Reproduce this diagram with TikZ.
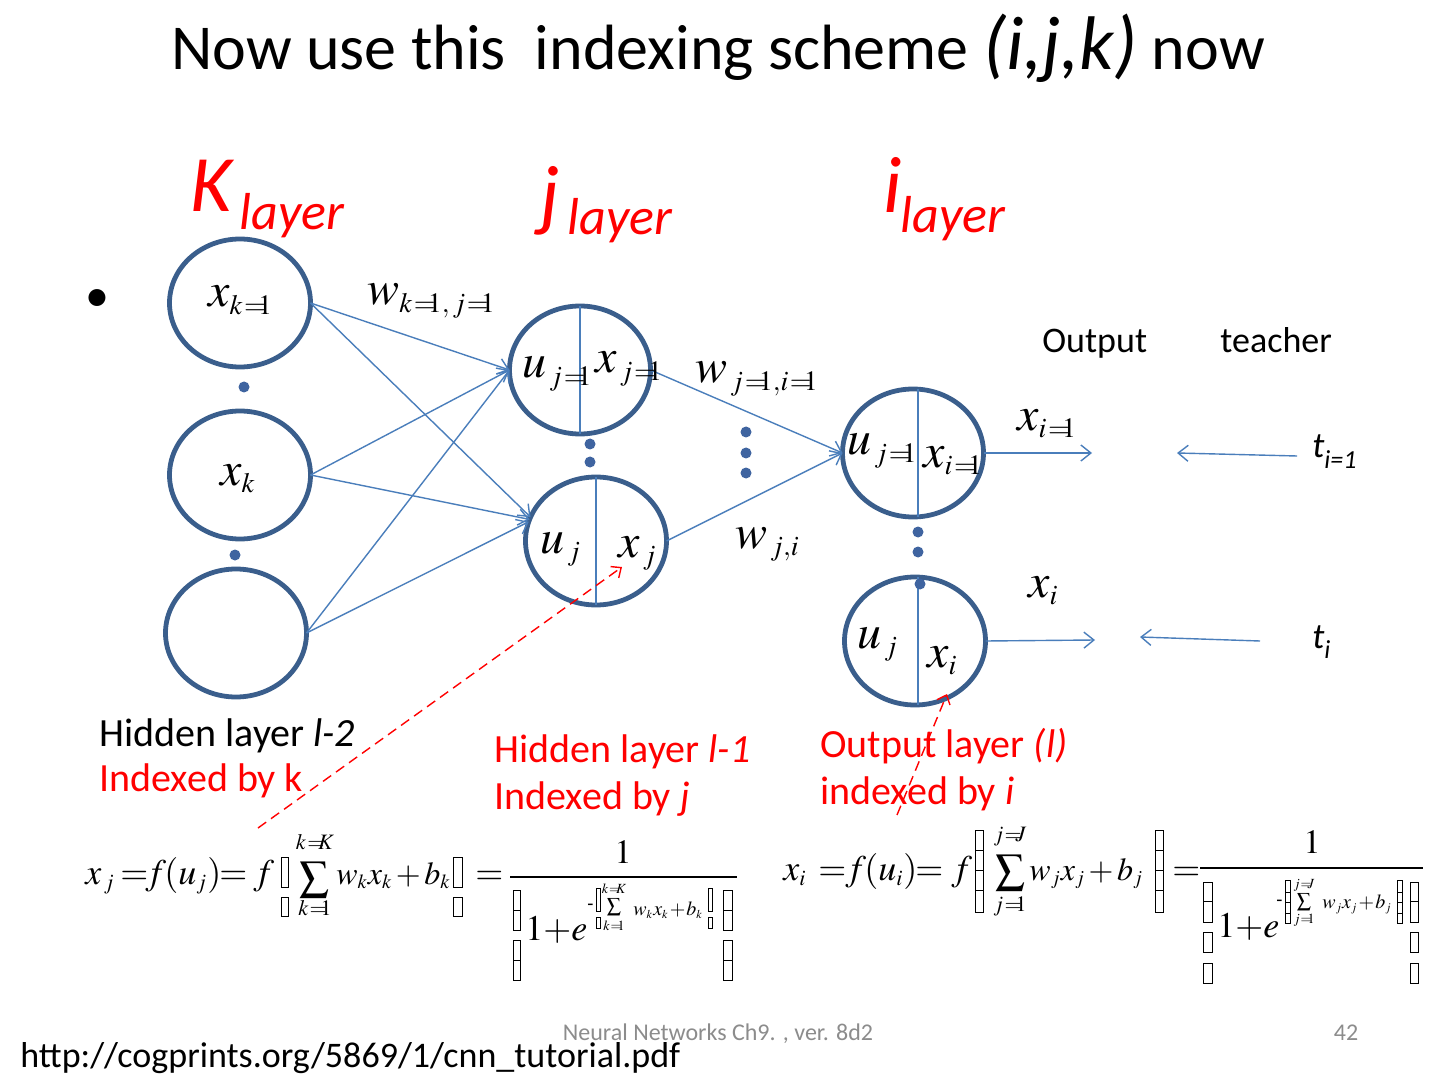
\documentclass[tikz,border=0pt]{standalone}
\usepackage{mathptmx}
\usepackage[no-math]{fontspec}
\setmainfont{Carlito}
\usetikzlibrary{shapes.geometric,arrows.meta,calc}
\definecolor{nborder}{HTML}{3A5E8C}
\definecolor{conncol}{HTML}{4A7EBB}
\definecolor{dotcol}{HTML}{3F64A0}
\definecolor{footgray}{HTML}{8C8C8C}
\newcommand\fsz[1]{\fontsize{#1}{#1}\selectfont}
\newcommand\eqo{\mkern1mu{=}\mkern-5mu}
\newcommand\eqfnt{\fsz{18}\medmuskip=2mu\relax}
\newcommand\eqtfnt{\fsz{18}\medmuskip=0mu\relax}
\newcommand\eqmfnt{\fsz{16}\medmuskip=2mu\relax}
\newcommand\eqsfnt{\fsz{10}\medmuskip=1mu\relax}
\DeclareMathSizes{24}{24}{14}{10}
\DeclareMathSizes{18}{18}{11}{8}
\DeclareMathSizes{16}{16}{10}{7}
\DeclareMathSizes{10}{10}{6}{5}
\begin{document}
\begin{tikzpicture}[x=0.5pt,y=-0.5pt,
 neuron/.style={ellipse, draw=nborder, line width=2.4pt, minimum width=70.5pt, minimum height=64pt, inner sep=0pt, outer sep=0pt},
 conn/.style={draw=conncol, line width=0.7pt, -{Straight Barb[length=5pt,width=8pt]}},
 divider/.style={draw=conncol, line width=0.6pt},
 dotm/.style={circle, fill=dotcol, inner sep=0pt, minimum size=5.5pt},
 redarrow/.style={draw=red, line width=0.7pt, dash pattern=on 5pt off 3pt, -{Straight Barb[length=4pt,width=7pt]}},
 lbl/.style={anchor=base west, inner sep=0pt, font=\fsz{24}},
 hd/.style={anchor=base west, inner sep=0pt, text=red, font=\fsz{40}\itshape},
 hdsub/.style={anchor=base west, inner sep=0pt, text=red, font=\fsz{26}\itshape},
 txt/.style={anchor=base west, inner sep=0pt, font=\fsz{20}},
 eq/.style={anchor=base west, inner sep=0pt, font=\eqfnt},
 eqt/.style={anchor=base west, inner sep=0pt, font=\eqtfnt},
 eqm/.style={anchor=base west, inner sep=0pt, font=\eqmfnt},
 eqs/.style={anchor=base west, inner sep=0pt, font=\eqsfnt},
 lim/.style={anchor=base, inner sep=0pt},
 bbox/.style={draw=black, line width=0.4pt}
]
\fill[white] (0,0) rectangle (1440,1080);
\useasboundingbox (0,0) rectangle (1440,1080);

% title
\node[anchor=base, font=\fsz{32}, inner sep=0pt] (title) at (718,70) {Now use this~ indexing scheme {\fsz{38}\itshape (i,j,k)} now};

% bullet
\node[font=\fsz{24}, inner sep=0pt] (bullet) at (97,301) {•};

% layer headings
\node[hd] (hK) at (190,212) {K};
\node[hdsub] (hKs) at (239,230) {layer};
\node[hd] (hj) at (540,222) {j};
\node[hdsub] (hjs) at (567,235) {layer};
\node[hd] (hi) at (883,213) {i};
\node[hdsub] (his) at (900,233) {layer};

% neurons
\node[neuron] (k1) at (240,303) {};
\node[neuron] (kk) at (240,475) {};
\node[neuron] (kn) at (236,633) {};
\node[neuron] (jA) at (580,370) {};
\node[neuron] (jB) at (596,541) {};
\node[neuron] (iC) at (913,453) {};
\node[neuron] (iD) at (915,641) {};

% dividers
\draw[divider] (jA.north) -- (jA.south);
\draw[divider] (jB.north) -- (jB.south);
\draw[divider] ($(iC.north)+(5,0)$) -- ($(iC.south)+(5,0)$);
\draw[divider] ($(iD.north)+(3,0)$) -- ($(iD.south)+(3,0)$);

% dots
\node[dotm] (dk1) at (244,387) {};
\node[dotm] (dk2) at (235,555) {};
\node[dotm] (dj1) at (590,444) {};
\node[dotm] (dj2) at (590,462) {};
\node[dotm] (dw1) at (746,432) {};
\node[dotm] (dw2) at (746,453) {};
\node[dotm] (dw3) at (746,473) {};
\node[dotm] (di1) at (918,532) {};
\node[dotm] (di2) at (918,552) {};
\node[dotm] (di3) at (920,584) {};

% connectors
\draw[conn] (k1.east) -- (jA.west);
\draw[conn] (k1.east) -- (jB.160);
\draw[conn] (kk.east) -- (jA.west);
\draw[conn] (kk.east) -- (jB.162);
\draw[conn] (kn.east) -- (jA.west);
\draw[conn] (kn.east) -- (jB.164);
\draw[conn] (jA.east) -- (iC.west);
\draw[conn] (jB.east) -- (iC.west);
\coordinate (oC) at (1092,453);
\coordinate (oD) at (1095,640);
\draw[conn] (iC.east) -- (oC);
\draw[conn] (iD.east) -- (oD);
\coordinate (tCs) at (1297,456);
\coordinate (tCe) at (1177,453);
\coordinate (tDs) at (1260,641);
\coordinate (tDe) at (1140,637);
\draw[conn] (tCs) -- (tCe);
\draw[conn] (tDs) -- (tDe);

% math labels
\node[lbl] (lxk1) at (208,307) {$x_{k\eqo 1}$};
\node[lbl] (lxk) at (220,485) {$x_{k}$};
\node[lbl] (lw1) at (367,305) {$w_{k\eqo 1,\,j\eqo 1}$};
\node[lbl] (luA) at (522,378) {$u_{\,j\eqo 1}$};
\node[lbl] (lxA) at (595,373) {$x_{\,j\eqo 1}$};
\node[lbl] (lw2) at (695,383) {$w_{\,j\eqo 1,i\eqo 1}$};
\node[lbl] (luB) at (540,553) {$u_{\,j}$};
\node[lbl] (lxB) at (618,557) {$x_{\,j}$};
\node[lbl] (lw3) at (735,548) {$w_{\,j,i}$};
\node[lbl] (luC) at (847,455) {$u_{\,j\eqo 1}$};
\node[lbl] (lxC) at (923,467) {$x_{i\eqo 1}$};
\node[lbl] (luD) at (857,648) {$u_{\,j}$};
\node[lbl] (lxD) at (927,667) {$x_{i}$};
\node[lbl] (lo1) at (1017,430) {$x_{i\eqo 1}$};
\node[lbl] (lo2) at (1028,597) {$x_{i}$};

% output / teacher
\node[anchor=base west, inner sep=0pt, font=\fsz{18}] (outl) at (1042,353) {Output};
\node[anchor=base west, inner sep=0pt, font=\fsz{18}] (teachl) at (1220,353) {teacher};
\node[anchor=base west, inner sep=0pt, font=\fsz{18}\itshape] (t1) at (1312,458) {t\raisebox{-0.3em}{\fsz{13}i=1}};
\node[anchor=base west, inner sep=0pt, font=\fsz{18}\itshape] (t2) at (1312,648) {t\raisebox{-0.3em}{\fsz{13}i}};

% layer descriptions
\node[txt] (h2a) at (99,746) {Hidden layer \textit{l-2}};
\node[txt, text=red] (h2b) at (99,791) {Indexed by k};
\node[txt, text=red] (h1a) at (494,762) {Hidden layer \textit{l-1}};
\node[txt, text=red] (h1b) at (494,809) {Indexed by \textit{j}};
\node[txt, text=red] (ola) at (820,757) {Output layer \textit{(l)}};
\node[txt, text=red] (olb) at (820,804) {indexed by \textit{i}};

% red dashed pointers
\coordinate (r1s) at (258,828);
\coordinate (r1e) at (622,567);
\coordinate (r2s) at (897,815);
\coordinate (r2e) at (947,694);
\draw[redarrow] (r1s) -- (r1e);
\draw[redarrow] (r2s) -- (r2e);

% ---------- left equation ----------
\node[eq] (L1) at (85,884) {$x_{\,j}$};
\node[eq] (L2) at (120,884) {$=$};
\node[eq] (L3) at (145,884) {$f$};
\node[eq] (L3b) at (164,884) {$(u_{j})$};
\node[eq] (L4) at (219,884) {$=$};
\node[eq] (L5) at (253,884) {$f$};
\draw[bbox] (281,857) rectangle (288,887);
\draw[bbox] (281,897) rectangle (288,916);
\node[font=\fsz{21}, inner sep=0pt] (Lsum) at (314,880) {$\sum$};
\node[lim, font=\fsz{11}] (LsumT) at (315,849) {$k\eqo K$};
\node[lim, font=\fsz{11}] (LsumB) at (315,915) {$k\eqo 1$};
\node[eqm] (L6) at (336,884) {$w_{k}x_{k}+b_{k}$};
\draw[bbox] (453,857) rectangle (462,887);
\draw[bbox] (453,897) rectangle (462,916);
\node[eq] (L7) at (475,884) {$=$};
\draw[line width=0.6pt] (510,877) -- (737,877);
\node[lim, font=\fsz{17}] (Lnum) at (623,863) {$1$};
\foreach \ya/\yb in {890/910,910/930,940/960,960/980} {
  \draw[bbox] (513,\ya) rectangle (520,\yb);
  \draw[bbox] (723,\ya) rectangle (732,\yb);
}
\node[eqt] (Lden) at (525,940) {$1+e$};
\node[eqs] (Lmin) at (587,910) {-};
\draw[bbox] (596,888) rectangle (600,911);
\draw[bbox] (596,917) rectangle (600,928);
\node[font=\fsz{10}, inner sep=0pt] (Lssum) at (614,907) {$\sum$};
\node[lim, font=\fsz{7}] (LssT) at (614,893) {$k\eqo K$};
\node[lim, font=\fsz{7}] (LssB) at (614,930) {$k\eqo 1$};
\node[eqs] (Lexp) at (633,915) {$w_{k}x_{k}+b_{k}$};
\draw[bbox] (708,888) rectangle (712,911);
\draw[bbox] (708,917) rectangle (712,928);

% ---------- right equation ----------
\node[eq] (R1) at (783,880) {$x_{i}$};
\node[eq] (R2) at (818,880) {$=$};
\node[eq] (R3) at (845,880) {$f$};
\node[eq] (R3b) at (864,880) {$(u_{i})$};
\node[eq] (R4) at (915,880) {$=$};
\node[eq] (R5) at (951,880) {$f$};
\foreach \ya/\yb in {830/850,850/870,870/890,890/912} {
  \draw[bbox] (975,\ya) rectangle (983,\yb);
  \draw[bbox] (1155,\ya) rectangle (1163,\yb);
}
\node[font=\fsz{21}, inner sep=0pt] (Rsum) at (1010,873) {$\sum$};
\node[lim, font=\fsz{11}] (RsumT) at (1010,841) {$j\eqo J$};
\node[lim, font=\fsz{11}] (RsumB) at (1010,911) {$j\eqo 1$};
\node[eqm] (R6) at (1029,880) {$w_{j}x_{j}+b_{j}$};
\node[eq] (R7) at (1172,880) {$=$};
\draw[line width=1pt] (1200,868) -- (1423,868);
\node[lim, font=\fsz{17}] (Rnum) at (1312,853) {$1$};
\foreach \ya/\yb in {882/901,901/922,932/952,963/983} {
  \draw[bbox] (1203,\ya) rectangle (1212,\yb);
  \draw[bbox] (1410,\ya) rectangle (1418,\yb);
}
\node[eqt] (Rden) at (1217,937) {$1+e$};
\node[eqs] (Rmin) at (1276,906) {-};
\foreach \ya/\yb in {880/892,892/902,902/913,913/923} {
  \draw[bbox] (1285,\ya) rectangle (1290,\yb);
  \draw[bbox] (1397,\ya) rectangle (1402,\yb);
}
\node[font=\fsz{10}, inner sep=0pt] (Rssum) at (1304,902) {$\sum$};
\node[lim, font=\fsz{7}] (RssT) at (1304,888) {$j\eqo J$};
\node[lim, font=\fsz{7}] (RssB) at (1304,923) {$j\eqo 1$};
\node[eqs] (Rexp) at (1322,908) {$w_{j}x_{j}+b_{j}$};

% footer
\node[lim, font=\fsz{12}, text=footgray] (foot) at (718,1040) {Neural Networks Ch9. , ver. 8d2};
\node[lim, font=\fsz{12}, text=footgray] (pg) at (1346,1040) {42};
\node[anchor=base west, inner sep=0pt, font=\fsz{18}] (url) at (20,1067) {http://cogprints.org/5869/1/cnn\_tutorial.pdf};
\end{tikzpicture}
\end{document}
